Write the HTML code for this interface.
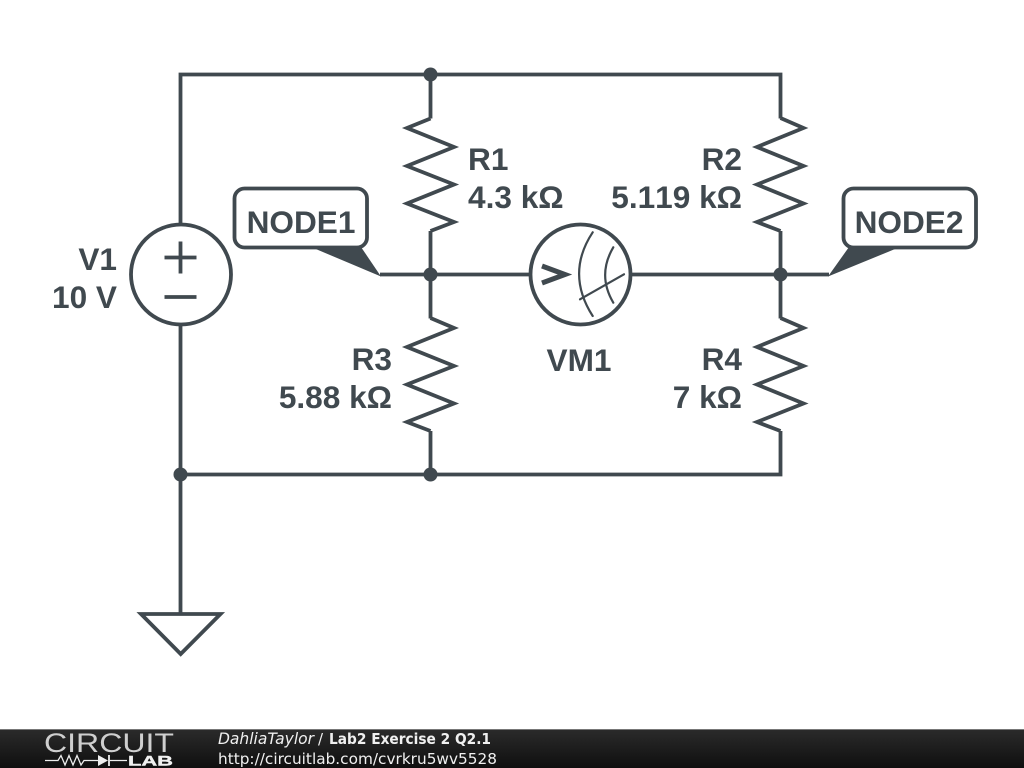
<!DOCTYPE html>
<html><head><meta charset="utf-8"><style>
html,body{margin:0;padding:0;background:#fff;width:1024px;height:768px;overflow:hidden}
svg{display:block}
.t{font-family:"Liberation Sans",sans-serif;font-weight:bold;font-size:31.6px;fill:#40494f;font-kerning:none}
.f{font-family:"DejaVu Sans",sans-serif;fill:#f0f0f0}
</style></head><body>
<svg width="1024" height="768" viewBox="0 0 1024 768" xmlns="http://www.w3.org/2000/svg">
<defs>
<linearGradient id="g" x1="0" y1="0" x2="0" y2="1"><stop offset="0" stop-color="#2b2b2b"/><stop offset="1" stop-color="#0f0f0f"/></linearGradient>
</defs>
<rect width="1024" height="768" fill="#fff"/>
<g fill="none" stroke="#40494f" stroke-width="3.8" stroke-linejoin="miter">
<path d="M180.5 224V74.5H780.5V118.5M430.5 74.5V118.5M180.5 324.5V614M180.5 474.5H780.5V431M430.5 474.5V431"/>
<path d="M380 274.5H530M631 274.5H829M430.5 231V318.5M780.5 231V318.5"/>
<path d="M430.5 118.5L407 128L454 147L407 166L454 184.500L407 203.500L454 222L430.500 231"/>
<path d="M780.5 118L803.500 128L757 147L803.500 166L757 184.500L803.500 203.500L757 222L780.500 231"/>
<path d="M430.5 318L454 328L407 347L454 366L407 384.500L454 403.500L407 422L430.500 431"/>
<path d="M780.5 318L803.500 328L757 347L803.500 366L757 384.500L803.500 403.500L757 422L780.500 431"/>
<circle cx="181" cy="274.500" r="50"/>
<circle cx="580.500" cy="274.500" r="50"/>
<path d="M164.500 257.500H196.500M180.500 241.500V273.500M164.500 297H196.500"/>
<path d="M141 614H220.500L180.700 654Z"/>
<rect x="234.500" y="188.500" width="132.500" height="59" rx="10"/>
<rect x="843.500" y="188.500" width="132.500" height="59" rx="10"/>
<path d="M542 266L565 274.500L542 283" stroke-width="5"/>
<g stroke-width="2.200" stroke-linecap="round">
<path d="M592.700 232.300Q565.500 273.500 592.700 316"/>
<path d="M613.300 247.300Q597 275 613.300 302.700"/>
<path d="M580 299.300L624 274.300"/>
</g>
</g>
<g fill="#40494f">
<circle cx="430.500" cy="74.500" r="7"/><circle cx="430.500" cy="274.500" r="7"/><circle cx="780.500" cy="274.500" r="7"/><circle cx="180.500" cy="474.500" r="7"/><circle cx="430.500" cy="474.500" r="7"/>
<path d="M311 247L381 276.500L361 247Z"/>
<path d="M828 276.500L849 247L900 247Z"/>
</g>
<g>
<text class="t" x="301" y="233" text-anchor="middle">NODE1</text>
<text class="t" x="909" y="233" text-anchor="middle">NODE2</text>
<text class="t" x="468" y="170">R1</text>
<text class="t" x="468" y="208">4.3 kΩ</text>
<text class="t" x="742" y="170" text-anchor="end">R2</text>
<text class="t" x="742" y="208" text-anchor="end">5.119 kΩ</text>
<text class="t" x="117" y="270" text-anchor="end">V1</text>
<text class="t" x="117" y="308" text-anchor="end">10 V</text>
<text class="t" x="392" y="370" text-anchor="end">R3</text>
<text class="t" x="392" y="408" text-anchor="end">5.88 kΩ</text>
<text class="t" x="742" y="370" text-anchor="end">R4</text>
<text class="t" x="742" y="408" text-anchor="end">7 kΩ</text>
<text class="t" x="579" y="371" text-anchor="middle">VM1</text>
</g>
<rect x="0" y="729" width="1024" height="39" fill="url(#g)"/>
<rect x="0" y="729" width="1024" height="1" fill="#777"/>
<text x="44" y="752" font-family="Liberation Sans,sans-serif" font-size="27" fill="#cfcfcf" textLength="130" lengthAdjust="spacingAndGlyphs">CIRCUIT</text>
<text x="128" y="765.500" font-family="Liberation Sans,sans-serif" font-size="14" font-weight="bold" stroke="#f0f0f0" stroke-width="0.4" fill="#f0f0f0" textLength="45" lengthAdjust="spacingAndGlyphs">LAB</text>
<path d="M45 760.500H58L61 755.500L65 765L69 755.500L73 765L77 755.500L81 765L84 760.500H98M110 760.500H127" fill="none" stroke="#eee" stroke-width="1.300"/>
<path d="M98 755L108 760.500L98 766Z" fill="#eee"/>
<path d="M109 755V766" stroke="#eee" stroke-width="1.800"/>
<text class="f" x="218" y="744" font-size="15.600" font-style="italic" textLength="96" lengthAdjust="spacingAndGlyphs">DahliaTaylor</text>
<text class="f" x="318" y="744" font-size="15">/</text>
<text class="f" x="329" y="744" font-size="15" font-weight="bold" textLength="162" lengthAdjust="spacingAndGlyphs">Lab2 Exercise 2 Q2.1</text>
<text class="f" x="218" y="764" font-size="15.300" textLength="279" lengthAdjust="spacingAndGlyphs">http://circuitlab.com/cvrkru5wv5528</text>
</svg>
</body></html>
